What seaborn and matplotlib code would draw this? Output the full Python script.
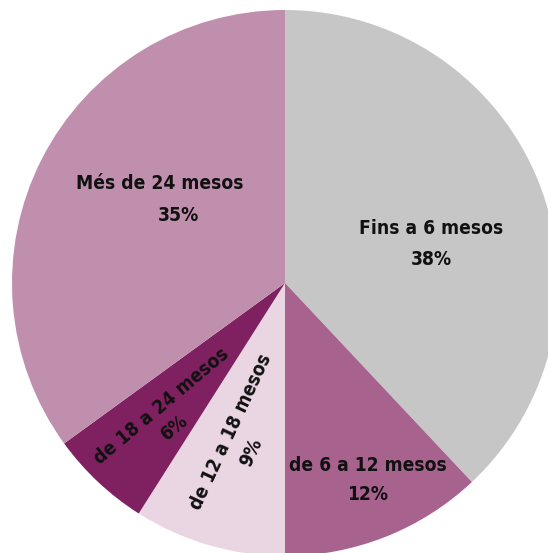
import matplotlib
matplotlib.use("Agg")
import matplotlib.pyplot as plt
import seaborn as sns
import numpy as np

sns.set_theme(style="white")
plt.rcParams['font.family'] = ['DejaVu Sans']

# data
categories = ['Fins a 6 mesos', 'de 6 a 12 mesos', 'de 12 a 18 mesos',
              'de 18 a 24 mesos', 'Més de 24 mesos']
shares = [38, 12, 9, 6, 35]
colors = ['#c6c6c6', '#a8628e', '#ead6e3', '#7f2160', '#c08fae']

# label placement: centre of the name line (data units, pie radius = 1),
# rotation, and the shift of the percentage (pixels, along / across the text)
name_xy = [(0.535, 0.201), (0.304, -0.667), (-0.200, -0.545),
           (-0.454, -0.450), (-0.458, 0.366)]
label_rot = [0, 0, 65, 40, 0]
pct_shift = [(0, 31), (0, 29), (-10, 28), (-3, 25), (18, 32)]

PX = 273.0  # pixels per data unit

fig = plt.figure(figsize=(5.48, 5.53), dpi=100)
ax = fig.add_axes([0, 0, 1, 1])
ax.pie(shares, colors=colors, startangle=90, counterclock=False,
       radius=1, wedgeprops=dict(linewidth=0))
ax.set_xlim(-285 / PX, 263 / PX)
ax.set_ylim(-270 / PX, 283 / PX)
ax.set_aspect('auto')
ax.axis('off')

style = dict(ha='center', va='center', rotation_mode='anchor',
             fontsize=13.8, fontweight='bold', fontstretch='condensed',
             color='#111111')
for cat, val, (x, y), rot, (da, dp) in zip(categories, shares, name_xy,
                                           label_rot, pct_shift):
    t = np.deg2rad(rot)
    ux, uy = np.cos(t), np.sin(t)
    px = x + (da * ux + dp * uy) / PX
    py = y + (da * uy - dp * ux) / PX
    ax.text(x, y, cat, rotation=rot, **style)
    ax.text(px, py, f"{val}%", rotation=rot, **style)

fig.savefig('out.png', dpi=100)
